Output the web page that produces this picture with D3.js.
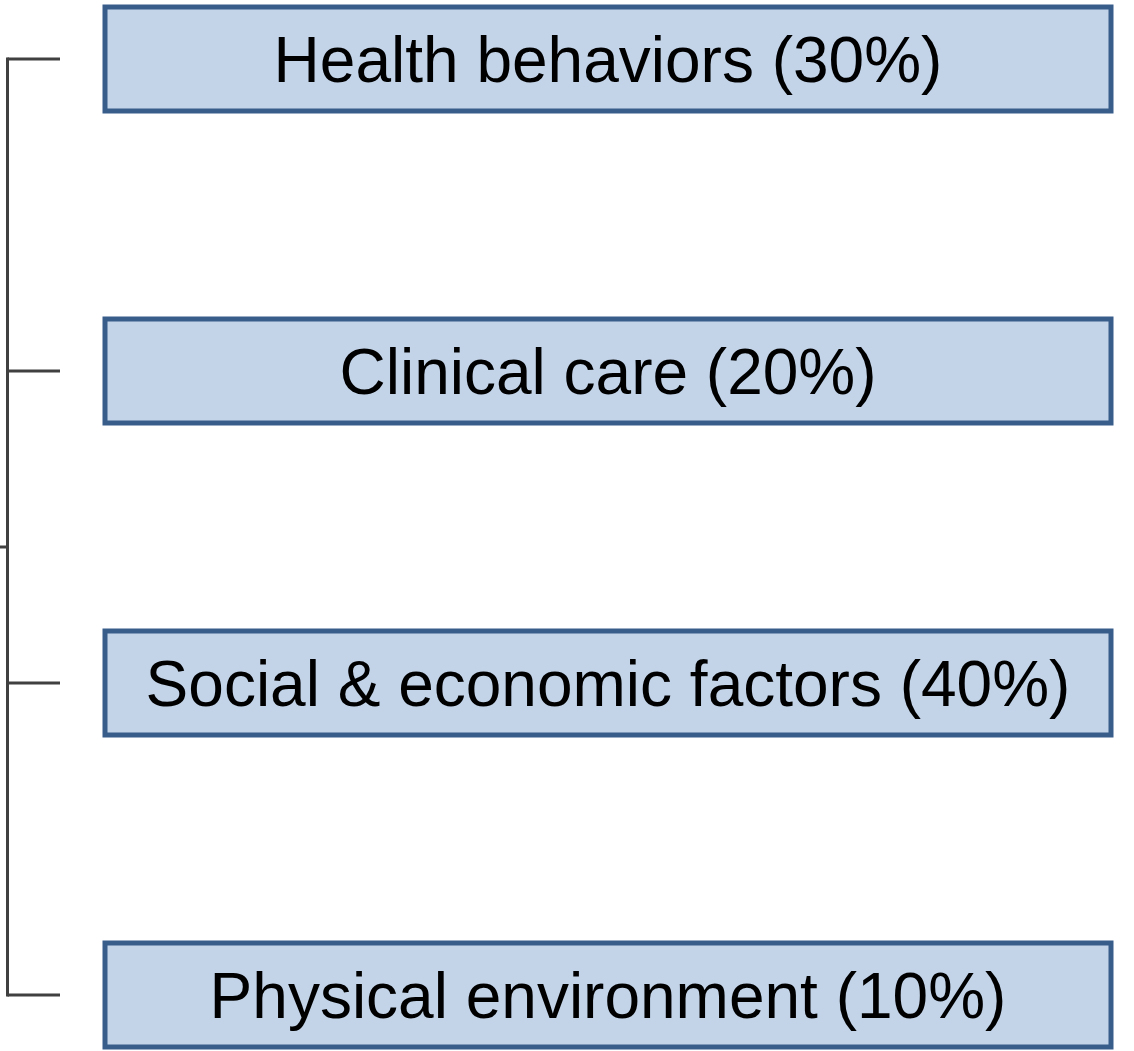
<!DOCTYPE html>
<html>
<head>
<meta charset="utf-8">
<script src="https://cdn.jsdelivr.net/npm/d3@7"></script>
<style>
  body { margin: 0; background: #fff; }
  svg { display: block; }
</style>
</head>
<body>
<div id="chart"></div>
<script>
// factors and their weights
const factors = ["Health behaviors", "Clinical care", "Social & economic factors", "Physical environment"];
const weights = [30, 20, 40, 10];

const width = 1134, height = 1051;

const svg = d3.select("#chart")
  .append("svg")
  .attr("width", width)
  .attr("height", height);

// vertical placement of the boxes
const y = d3.scalePoint()
  .domain(factors)
  .range([59, 995]);

const boxH = 104, boxX = 105, boxW = 1006;
const fontSize = 64;

// bracket on the left
const bracketX = 7.5, stubEnd = 60;
const bracket = svg.append("g")
  .attr("stroke", "#404040")
  .attr("stroke-width", 3)
  .attr("fill", "none");

bracket.append("line")
  .attr("x1", bracketX).attr("x2", bracketX)
  .attr("y1", y(factors[0]) - 1.5)
  .attr("y2", y(factors[factors.length - 1]) + 1.5);

bracket.selectAll(".stub")
  .data(factors)
  .enter()
  .append("line")
  .attr("class", "stub")
  .attr("x1", bracketX)
  .attr("x2", stubEnd)
  .attr("y1", d => y(d))
  .attr("y2", d => y(d));

// small tick to the left at the bracket's middle
bracket.append("line")
  .attr("x1", 0).attr("x2", bracketX)
  .attr("y1", 547).attr("y2", 547);

// boxes
const rows = factors.map((f, i) => ({ name: f, weight: weights[i] }));

const box = svg.selectAll(".box")
  .data(rows)
  .enter()
  .append("g")
  .attr("class", "box")
  .attr("transform", d => "translate(0," + y(d.name) + ")");

box.append("rect")
  .attr("x", boxX)
  .attr("y", -boxH / 2)
  .attr("width", boxW)
  .attr("height", boxH)
  .attr("fill", "#c3d4e9")
  .attr("stroke", "#385d8a")
  .attr("stroke-width", 5);

box.append("text")
  .attr("x", boxX + boxW / 2)
  .attr("y", fontSize * 0.716 / 2)
  .attr("text-anchor", "middle")
  .attr("font-family", "'Liberation Sans', Arial, sans-serif")
  .attr("font-size", fontSize)
  .attr("fill", "#000")
  .text(d => d.name + " (" + d.weight + "%)");
</script>
</body>
</html>
